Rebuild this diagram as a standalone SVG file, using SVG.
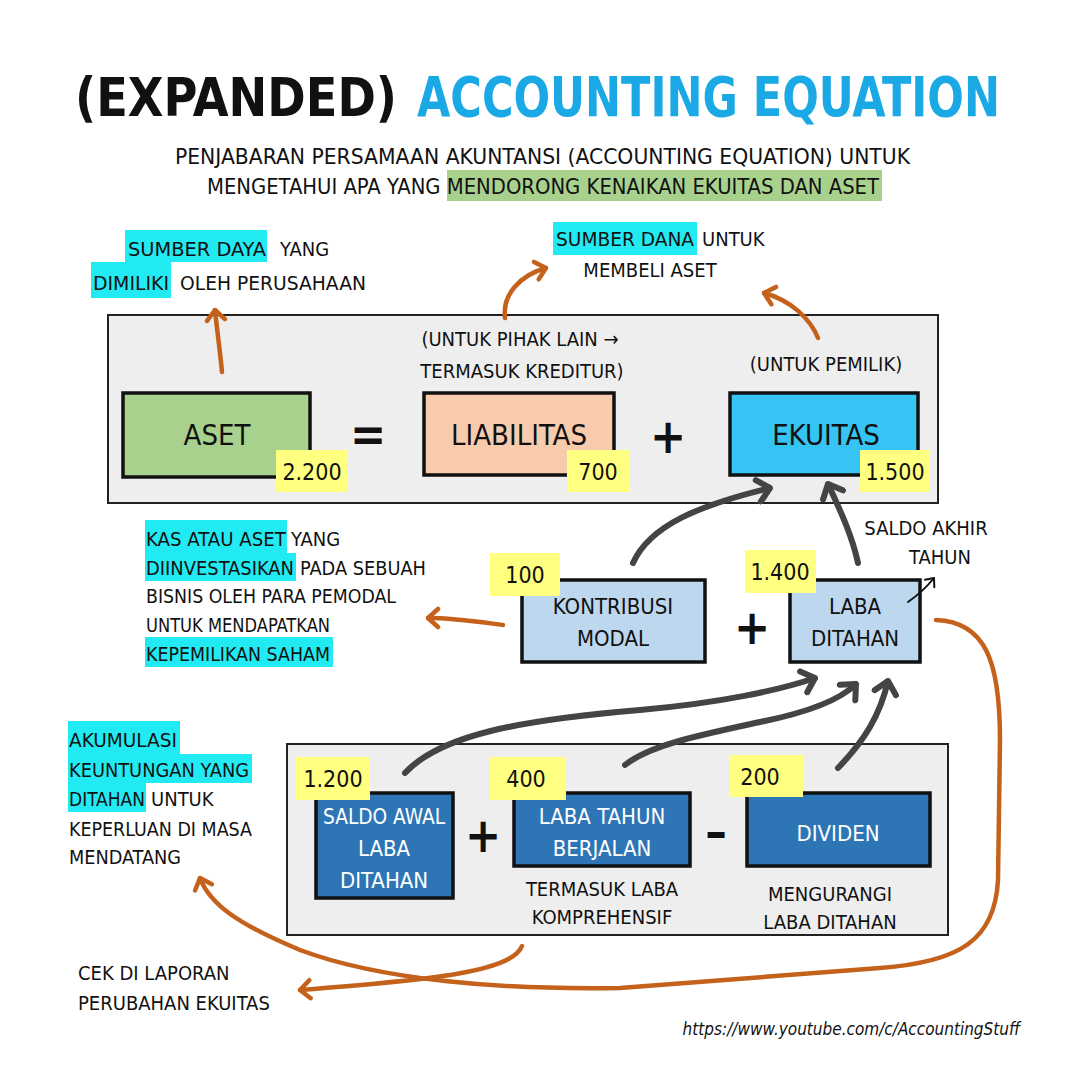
<svg xmlns="http://www.w3.org/2000/svg" width="1080" height="1080" viewBox="0 0 1080 1080">
<defs>
<style>
text{font-family:"DejaVu Sans Condensed","DejaVu Sans",sans-serif;fill:#111;}
.t{font-size:20px;}
.tc{font-size:20px;text-anchor:middle;}
.bl{font-size:22px;text-anchor:middle;}
.big{font-size:29px;text-anchor:middle;}
.wb{font-size:22px;text-anchor:middle;fill:#fff;}
.num{font-size:23px;text-anchor:middle;}
.box{stroke:#111;stroke-width:3.5;}
.panel{fill:#eeeeee;stroke:#222;stroke-width:2;}
.yl{fill:#ffff80;}
.cy{fill:#22eaf2;}
.op{font-size:48px;font-weight:bold;text-anchor:middle;}
.oa{fill:none;stroke:#c4621c;stroke-width:4.5;stroke-linecap:round;}
.ga{fill:none;stroke:#444;stroke-width:6;stroke-linecap:round;}
</style>
<marker id="mo" viewBox="-14 -12 16 24" markerWidth="16" markerHeight="24" refX="0" refY="0" orient="auto" markerUnits="userSpaceOnUse"><path d="M-10,-9 L0,0 L-10,9" fill="none" stroke="#c4621c" stroke-width="4.5" stroke-linecap="round" stroke-linejoin="round"/></marker>
<marker id="mg" viewBox="-16 -14 18 28" markerWidth="18" markerHeight="28" refX="0" refY="0" orient="auto" markerUnits="userSpaceOnUse"><path d="M-12,-11 L0,0 L-12,11" fill="none" stroke="#444" stroke-width="6" stroke-linecap="round" stroke-linejoin="round"/></marker>
<marker id="mk" viewBox="-10 -8 12 16" markerWidth="12" markerHeight="16" refX="0" refY="0" orient="auto" markerUnits="userSpaceOnUse"><path d="M-7,-6 L0,0 L-7,6" fill="none" stroke="#111" stroke-width="2" stroke-linecap="round" stroke-linejoin="round"/></marker>
</defs>
<rect width="1080" height="1080" fill="#fff"/>

<g id="title">
<text x="75" y="116" font-size="54" font-weight="bold" textLength="322" lengthAdjust="spacingAndGlyphs">(EXPANDED)</text>
<text x="417" y="116" font-size="50" font-weight="bold" style="fill:#1ba9e6" textLength="583" lengthAdjust="spacingAndGlyphs" transform="translate(417 116) scale(1 1.1) translate(-417 -116)">ACCOUNTING EQUATION</text>
</g>

<g id="subtitle">
<rect x="447" y="170" width="435" height="31" fill="#a9d18e"/>
<text x="175" y="164" font-size="21" textLength="735" lengthAdjust="spacingAndGlyphs">PENJABARAN PERSAMAAN AKUNTANSI (ACCOUNTING EQUATION) UNTUK</text>
<text x="207" y="194" font-size="21" textLength="672" lengthAdjust="spacingAndGlyphs">MENGETAHUI APA YANG MENDORONG KENAIKAN EKUITAS DAN ASET</text>
</g>

<g id="panel-top"><rect class="panel" x="108" y="315" width="830" height="188"/></g>
<g id="panel-bottom"><rect class="panel" x="287" y="744" width="661" height="191"/></g>

<g id="note-aset">
<rect class="cy" x="125" y="230" width="142" height="32"/>
<rect class="cy" x="91" y="262" width="80" height="36"/>
<text class="t" x="128" y="256" textLength="138" lengthAdjust="spacingAndGlyphs">SUMBER DAYA</text>
<text class="t" x="280" y="256">YANG</text>
<text class="t" x="93" y="290" textLength="76" lengthAdjust="spacingAndGlyphs">DIMILIKI</text>
<text class="t" x="180" y="290" textLength="186" lengthAdjust="spacingAndGlyphs">OLEH PERUSAHAAN</text>
</g>

<g id="note-dana">
<rect class="cy" x="553" y="222" width="144" height="33"/>
<text class="t" x="556" y="246" textLength="138" lengthAdjust="spacingAndGlyphs">SUMBER DANA</text>
<text class="t" x="702" y="246">UNTUK</text>
<text class="tc" x="650" y="277">MEMBELI ASET</text>
</g>

<g id="note-liab">
<text class="tc" x="520" y="346">(UNTUK PIHAK LAIN →</text>
<text class="tc" x="522" y="378">TERMASUK KREDITUR)</text>
</g>
<g id="note-pemilik"><text class="tc" x="826" y="371">(UNTUK PEMILIK)</text></g>

<g id="aset">
<rect class="box" x="123" y="393" width="187" height="84" fill="#a9d18e"/>
<text class="big" x="217" y="445">ASET</text>
<rect class="yl" x="276" y="450" width="72" height="42"/>
<text class="num" x="312" y="480">2.200</text>
</g>
<g id="op-eq"><text class="op" x="368" y="451">=</text></g>
<g id="liabilitas">
<rect class="box" x="424" y="393" width="190" height="82" fill="#f8cbad"/>
<text class="big" x="519" y="445">LIABILITAS</text>
<rect class="yl" x="567" y="450" width="63" height="42"/>
<text class="num" x="598" y="480">700</text>
</g>
<g id="op-plus1"><text class="op" x="668" y="453">+</text></g>
<g id="ekuitas">
<rect class="box" x="730" y="393" width="188" height="82" fill="#35c4f4"/>
<text class="big" x="826" y="445">EKUITAS</text>
<rect class="yl" x="860" y="450" width="70" height="42"/>
<text class="num" x="895" y="480">1.500</text>
</g>

<g id="note-kas">
<rect class="cy" x="145" y="520" width="142" height="33"/>
<rect class="cy" x="145" y="553" width="151" height="28"/>
<rect class="cy" x="145" y="637" width="188" height="30"/>
<text class="t" x="146" y="546" textLength="140" lengthAdjust="spacingAndGlyphs">KAS ATAU ASET</text>
<text class="t" x="291" y="546">YANG</text>
<text class="t" x="146" y="575" textLength="148" lengthAdjust="spacingAndGlyphs">DIINVESTASIKAN</text>
<text class="t" x="300" y="575" textLength="126" lengthAdjust="spacingAndGlyphs">PADA SEBUAH</text>
<text class="t" x="146" y="603" textLength="250" lengthAdjust="spacingAndGlyphs">BISNIS OLEH PARA PEMODAL</text>
<text class="t" x="146" y="632" textLength="184" lengthAdjust="spacingAndGlyphs">UNTUK MENDAPATKAN</text>
<text class="t" x="146" y="661" textLength="184" lengthAdjust="spacingAndGlyphs">KEPEMILIKAN SAHAM</text>
</g>

<g id="kontribusi">
<rect class="box" x="522" y="580" width="183" height="82" fill="#bdd7ee"/>
<text class="bl" x="613" y="614">KONTRIBUSI</text>
<text class="bl" x="613" y="646">MODAL</text>
<rect class="yl" x="490" y="553" width="70" height="43"/>
<text class="num" x="525" y="583">100</text>
</g>
<g id="op-plus2"><text class="op" x="752" y="644">+</text></g>
<g id="laba-ditahan">
<rect class="box" x="790" y="580" width="130" height="82" fill="#bdd7ee"/>
<text class="bl" x="855" y="614">LABA</text>
<text class="bl" x="855" y="646">DITAHAN</text>
<rect class="yl" x="745" y="550" width="71" height="43"/>
<text class="num" x="780" y="580">1.400</text>
</g>
<g id="note-saldo-akhir">
<text class="tc" x="926" y="535">SALDO AKHIR</text>
<text class="tc" x="940" y="564">TAHUN</text>
</g>

<g id="note-akumulasi">
<rect class="cy" x="68" y="721" width="112" height="33"/>
<rect class="cy" x="68" y="754" width="184" height="29"/>
<rect class="cy" x="68" y="783" width="78" height="29"/>
<text class="t" x="69" y="747" textLength="108" lengthAdjust="spacingAndGlyphs">AKUMULASI</text>
<text class="t" x="69" y="777" textLength="180" lengthAdjust="spacingAndGlyphs">KEUNTUNGAN YANG</text>
<text class="t" x="69" y="806" textLength="76" lengthAdjust="spacingAndGlyphs">DITAHAN</text>
<text class="t" x="151" y="806">UNTUK</text>
<text class="t" x="69" y="836" textLength="183" lengthAdjust="spacingAndGlyphs">KEPERLUAN DI MASA</text>
<text class="t" x="69" y="864" textLength="112" lengthAdjust="spacingAndGlyphs">MENDATANG</text>
</g>

<g id="saldo-awal">
<rect class="box" x="316" y="793" width="137" height="105" fill="#2e75b6"/>
<text class="wb" x="384" y="824" textLength="122" lengthAdjust="spacingAndGlyphs">SALDO AWAL</text>
<text class="wb" x="384" y="856">LABA</text>
<text class="wb" x="384" y="888">DITAHAN</text>
<rect class="yl" x="296" y="757" width="74" height="43"/>
<text class="num" x="333" y="787">1.200</text>
</g>
<g id="op-plus3"><text class="op" x="483" y="852">+</text></g>
<g id="laba-tahun">
<rect class="box" x="514" y="793" width="176" height="73" fill="#2e75b6"/>
<text class="wb" x="602" y="824">LABA TAHUN</text>
<text class="wb" x="602" y="856">BERJALAN</text>
<rect class="yl" x="490" y="757" width="76" height="43"/>
<text class="num" x="526" y="787">400</text>
<text class="tc" x="602" y="896">TERMASUK LABA</text>
<text class="tc" x="602" y="924">KOMPREHENSIF</text>
</g>
<g id="op-minus"><text class="op" x="716" y="848">–</text></g>
<g id="dividen">
<rect class="box" x="747" y="793" width="183" height="73" fill="#2e75b6"/>
<text class="wb" x="838" y="841">DIVIDEN</text>
<rect class="yl" x="730" y="755" width="73" height="42"/>
<text class="num" x="760" y="785">200</text>
<text class="tc" x="830" y="901">MENGURANGI</text>
<text class="tc" x="830" y="929">LABA DITAHAN</text>
</g>

<g id="note-cek">
<text class="t" x="78" y="980">CEK DI LAPORAN</text>
<text class="t" x="78" y="1010">PERUBAHAN EKUITAS</text>
</g>

<g id="source"><text x="1020" y="1035" font-size="17" font-style="italic" text-anchor="end" font-family="Liberation Sans, sans-serif">https://www.youtube.com/c/AccountingStuff</text></g>

<g id="connectors">
<path class="oa" d="M222,372 C220,350 217,330 215,310" marker-end="url(#mo)"/>
<path class="oa" d="M505,318 C502,295 520,275 546,268" marker-end="url(#mo)"/>
<path class="oa" d="M818,338 C810,318 790,300 764,293" marker-end="url(#mo)"/>
<path class="oa" d="M503,625 C480,622 455,618 428,618" marker-end="url(#mo)"/>
<path class="oa" d="M936,620 C985,622 1000,660 1000,740 L998,880 C995,940 960,962 880,968 L620,988 C500,990 380,980 300,950 C240,925 210,905 200,878" marker-end="url(#mo)"/>
<path class="oa" d="M522,946 C512,972 430,980 300,990" marker-end="url(#mo)"/>
<path class="ga" d="M633,563 C650,525 700,505 770,488" marker-end="url(#mg)"/>
<path class="ga" d="M858,563 C852,535 840,510 828,484" marker-end="url(#mg)"/>
<path class="ga" d="M405,773 C440,735 520,720 640,710 C720,703 780,690 815,678" marker-end="url(#mg)"/>
<path class="ga" d="M625,765 C650,745 700,735 760,722 C810,712 840,700 856,684" marker-end="url(#mg)"/>
<path class="ga" d="M838,768 C865,740 880,715 888,681" marker-end="url(#mg)"/>
<path fill="none" stroke="#111" stroke-width="2" stroke-linecap="round" d="M908,602 C918,595 926,588 934,578" marker-end="url(#mk)"/>
</g>
</svg>
